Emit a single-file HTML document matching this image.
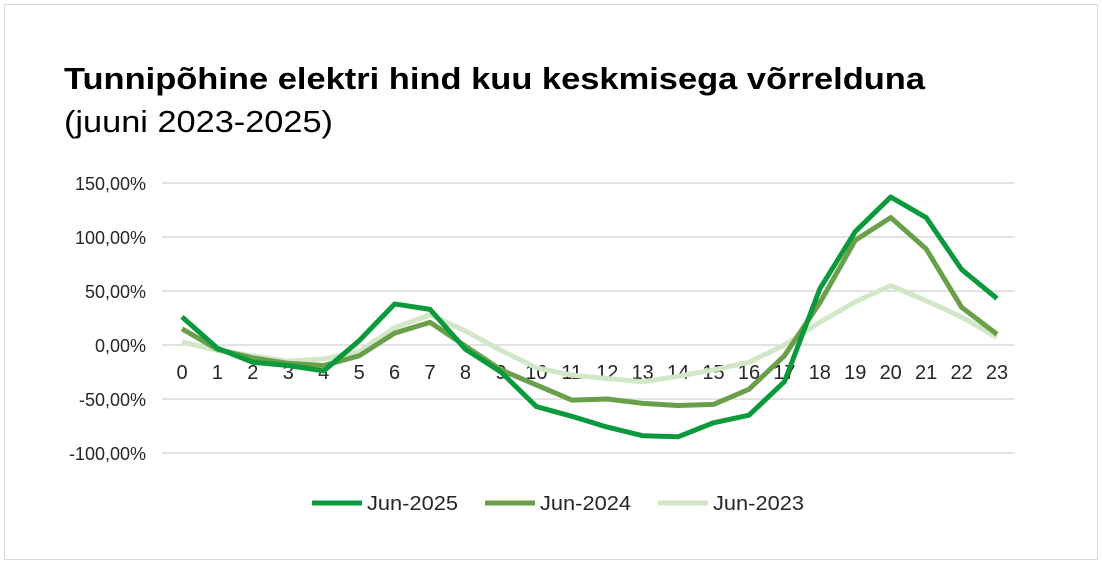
<!DOCTYPE html>
<html><head><meta charset="utf-8"><style>
body{margin:0;background:#fff;font-family:"Liberation Sans",Arial,sans-serif}
</style></head><body>
<svg width="1102" height="565" xmlns="http://www.w3.org/2000/svg">
<rect x="4.5" y="4.5" width="1093" height="555" fill="#fff" stroke="#d9d9d9"/>
<text x="64" y="89" font-size="31" font-weight="bold" fill="#000" textLength="861" lengthAdjust="spacingAndGlyphs">Tunnipõhine elektri hind kuu keskmisega võrrelduna</text>
<text x="64" y="132" font-size="31" fill="#000" textLength="269" lengthAdjust="spacingAndGlyphs">(juuni 2023-2025)</text>
<g id="grid"></g><g id="ylab"></g><g id="xlab"></g><g id="lines"></g>
<g>
<line x1="312" y1="503" x2="362" y2="503" stroke="#0a9a3c" stroke-width="5"/>
<text x="367" y="510" font-size="20" fill="#262626" textLength="91" lengthAdjust="spacingAndGlyphs">Jun-2025</text>
<line x1="485" y1="503" x2="535" y2="503" stroke="#6a9f4a" stroke-width="5"/>
<text x="540" y="510" font-size="20" fill="#262626" textLength="91" lengthAdjust="spacingAndGlyphs">Jun-2024</text>
<line x1="658" y1="503" x2="708" y2="503" stroke="#d2e6c8" stroke-width="5"/>
<text x="713" y="510" font-size="20" fill="#262626" textLength="91" lengthAdjust="spacingAndGlyphs">Jun-2023</text>
</g>
</svg>
<script>
const hours=[0,1,2,3,4,5,6,7,8,9,10,11,12,13,14,15,16,17,18,19,20,21,22,23];
const jun2025=[26,-3,-16,-19,-24,4,38,33,-4,-25,-57,-66,-76,-84,-85,-72,-65,-34,52,105,137,118,70,43];
const jun2024=[15,-4,-12,-17,-19,-10,11,21,-1,-23,-37,-51,-50,-54,-56,-55,-41,-10,39,97,118,89,35,10];
const jun2023=[3,-5,-10,-15,-13,-6,16,28,13,-5,-21,-28,-31,-34,-29,-23,-16,0,21,40,55,41,26,7];
const yTicks=[150,100,50,0,-50,-100];
const yTickLabels=["150,00%","100,00%","50,00%","0,00%","-50,00%","-100,00%"];
const NS="http://www.w3.org/2000/svg";
const x=h=>182+h*(815/23);
const y=v=>345-v*1.08;
const grid=document.getElementById('grid'),ylab=document.getElementById('ylab'),xlab=document.getElementById('xlab'),lines=document.getElementById('lines');
yTicks.forEach((t,i)=>{
 const l=document.createElementNS(NS,'line');
 l.setAttribute('x1',162);l.setAttribute('x2',1015);l.setAttribute('y1',y(t));l.setAttribute('y2',y(t));
 l.setAttribute('stroke','#d9d9d9');l.setAttribute('stroke-width','1.5');
 
 
 grid.appendChild(l);
 const tx=document.createElementNS(NS,'text');
 tx.setAttribute('x',146);tx.setAttribute('y',y(t)+7);tx.setAttribute('text-anchor','end');
 tx.setAttribute('font-size','18');tx.setAttribute('fill','#262626');
 tx.textContent=yTickLabels[i];
 
 
 ylab.appendChild(tx);
});
hours.forEach(h=>{
 const tx=document.createElementNS(NS,'text');
 tx.setAttribute('x',x(h));tx.setAttribute('y',379);tx.setAttribute('text-anchor','middle');
 tx.setAttribute('font-size','20');tx.setAttribute('fill','#262626');
 tx.textContent=h;
 
 
 xlab.appendChild(tx);
});
[[jun2023,'#d2e6c8','line-jun-2023'],[jun2024,'#6a9f4a','line-jun-2024'],[jun2025,'#0a9a3c','line-jun-2025']].forEach(([d,c,n])=>{
 const p=document.createElementNS(NS,'polyline');
 p.setAttribute('points',d.map((v,i)=>x(hours[i])+','+y(v)).join(' '));
 p.setAttribute('fill','none');p.setAttribute('stroke',c);p.setAttribute('stroke-width','5');
 p.setAttribute('stroke-linejoin','round');
 
 
 lines.appendChild(p);
});
</script>
</body></html>
